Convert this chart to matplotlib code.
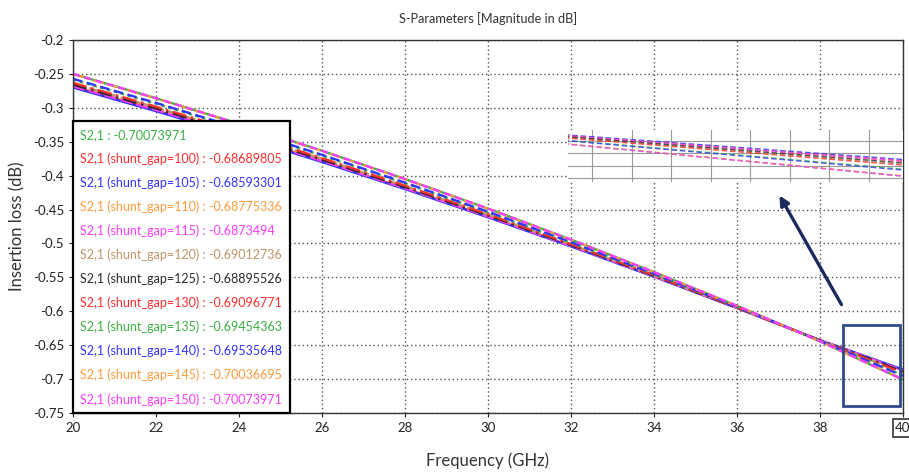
import matplotlib
matplotlib.use("Agg")
import matplotlib.pyplot as plt
import matplotlib.patches as mpatches
from matplotlib.ticker import MultipleLocator, FixedLocator

plt.rcParams["font.family"] = ["Lato", "DejaVu Sans"]
plt.rcParams["axes.unicode_minus"] = False

# Frequency sweep (GHz)
freq = [20, 22, 24, 26, 28, 30, 32, 34, 36, 38, 40]

# |S2,1| in dB for each run
s21_base = [-0.2500, -0.2859, -0.3236, -0.3633, -0.4050, -0.4486, -0.4944, -0.5422, -0.5919, -0.6442, -0.70073971]
s21_g100 = [-0.2686, -0.3036, -0.3403, -0.3787, -0.4188, -0.4605, -0.5037, -0.5485, -0.5950, -0.6427, -0.68689805]
s21_g105 = [-0.2700, -0.3049, -0.3416, -0.3799, -0.4198, -0.4614, -0.5044, -0.5490, -0.5953, -0.6426, -0.68593301]
s21_g110 = [-0.2674, -0.3024, -0.3392, -0.3777, -0.4179, -0.4597, -0.5031, -0.5481, -0.5948, -0.6428, -0.68775336]
s21_g115 = [-0.2681, -0.3031, -0.3399, -0.3783, -0.4184, -0.4601, -0.5034, -0.5483, -0.5949, -0.6428, -0.6873494]
s21_g120 = [-0.2643, -0.2995, -0.3365, -0.3752, -0.4156, -0.4577, -0.5015, -0.5471, -0.5943, -0.6431, -0.69012736]
s21_g125 = [-0.2658, -0.3009, -0.3378, -0.3764, -0.4167, -0.4587, -0.5023, -0.5476, -0.5946, -0.6429, -0.68895526]
s21_g130 = [-0.2631, -0.2983, -0.3354, -0.3742, -0.4147, -0.4570, -0.5009, -0.5467, -0.5941, -0.6432, -0.69096771]
s21_g135 = [-0.2584, -0.2939, -0.3312, -0.3703, -0.4112, -0.4540, -0.4986, -0.5451, -0.5933, -0.6435, -0.69454363]
s21_g140 = [-0.2572, -0.2927, -0.3301, -0.3693, -0.4103, -0.4532, -0.4980, -0.5447, -0.5931, -0.6436, -0.69535648]
s21_g145 = [-0.2504, -0.2863, -0.3240, -0.3637, -0.4053, -0.4489, -0.4946, -0.5423, -0.5920, -0.6442, -0.70036695]
s21_g150 = [-0.2500, -0.2859, -0.3236, -0.3633, -0.4050, -0.4486, -0.4944, -0.5422, -0.5919, -0.6442, -0.70073971]

series_names = ["S2,1", "S2,1 (shunt_gap=100)", "S2,1 (shunt_gap=105)", "S2,1 (shunt_gap=110)",
                "S2,1 (shunt_gap=115)", "S2,1 (shunt_gap=120)", "S2,1 (shunt_gap=125)",
                "S2,1 (shunt_gap=130)", "S2,1 (shunt_gap=135)", "S2,1 (shunt_gap=140)",
                "S2,1 (shunt_gap=145)", "S2,1 (shunt_gap=150)"]
marker_text = ["-0.70073971", "-0.68689805", "-0.68593301", "-0.68775336", "-0.6873494",
               "-0.69012736", "-0.68895526", "-0.69096771", "-0.69454363", "-0.69535648",
               "-0.70036695", "-0.70073971"]
series = [s21_base, s21_g100, s21_g105, s21_g110, s21_g115, s21_g120, s21_g125,
          s21_g130, s21_g135, s21_g140, s21_g145, s21_g150]

colors = ["#3cb043", "#ff2f2f", "#3434ff", "#ff9a3c", "#ff3cff", "#c09467",
          "#2b2b2b", "#ff2f2f", "#3cb043", "#3434ff", "#ff9a3c", "#ff3cff"]
styles = ["-", "-", "-", (0, (5, 2)), (0, (5, 2)), (0, (5, 2)), (0, (6, 2, 1, 2)),
          (0, (6, 2, 1, 2)), (0, (1.5, 1.5)), (0, (4, 2)), (0, (1.5, 1.5)), (0, (3, 2))]

fig = plt.figure(figsize=(9.09, 4.76), dpi=100)
ax = fig.add_axes([73 / 909, 63 / 476, 830 / 909, 373 / 476])

handles = []
for vals, c, ls, name, mt in zip(series, colors, styles, series_names, marker_text):
    h, = ax.plot(freq, vals, color=c, linestyle=ls, linewidth=1.7, label=f"{name} : {mt}")
    handles.append(h)

ax.set_xlim(20, 40)
ax.set_ylim(-0.75, -0.2)
ax.xaxis.set_major_locator(MultipleLocator(2))
ax.yaxis.set_major_locator(MultipleLocator(0.05))
ax.yaxis.set_major_formatter(matplotlib.ticker.FuncFormatter(lambda v, p: f"{v:.2f}".rstrip("0")))
ax.grid(True, color="#555555", linestyle=(0, (1, 2)), linewidth=1.0)
ax.tick_params(axis="both", labelsize=9.5, length=3, width=0.8, colors="#222222")
for sp in ax.spines.values():
    sp.set_linewidth(1.0)
    sp.set_color("#333333")

ax.set_title("S-Parameters [Magnitude in dB]", fontsize=9.2, color="#333333", pad=12)
ax.set_xlabel("Frequency (GHz)", fontsize=12, color="#333333", labelpad=13)
ax.set_ylabel("Insertion loss (dB)", fontsize=12, color="#333333", labelpad=5)

# highlight the marker position label on the x axis
fig.canvas.draw()
for lbl in ax.get_xticklabels():
    if lbl.get_text() == "40":
        lbl.set_bbox(dict(boxstyle="square,pad=0.2", facecolor="white", edgecolor="#333333", linewidth=1.2))

leg = ax.legend(handles=handles, loc="lower left", bbox_to_anchor=(0, 0), borderaxespad=0,
                handlelength=0, handletextpad=0, fontsize=9, labelspacing=0.92,
                fancybox=False, framealpha=1, edgecolor="black", labelcolor="linecolor",
                borderpad=0.6)
leg.get_frame().set_linewidth(1.6)
for lh in leg.legend_handles:
    lh.set_visible(False)

# zoomed view of the high-frequency end
axin = ax.inset_axes([495 / 830, 231 / 373, 335 / 830, 52 / 373])
for vals, c, ls in zip(series, colors, styles):
    axin.plot(freq, vals, color=c, linestyle=(0, (4, 2)), linewidth=1.0, alpha=0.8)
axin.set_xlim(39.0, 40.0)
axin.set_ylim(-0.7059, -0.6599)
axin.xaxis.set_major_locator(FixedLocator([39.072 + 0.118 * k for k in range(8)]))
axin.yaxis.set_major_locator(FixedLocator([-0.6696 - 0.0109 * k for k in range(4)]))
axin.grid(True, color="#999999", linewidth=0.8)
axin.tick_params(left=False, bottom=False, labelleft=False, labelbottom=False)
for sp in axin.spines.values():
    sp.set_visible(False)
axin.set_facecolor("white")
axin.set_zorder(5)

# selection box and pointer to the zoomed view
rect = mpatches.Rectangle((38.55, -0.7397), 1.38, 0.1195, fill=False,
                          edgecolor="#2f4b8a", linewidth=2, zorder=6, clip_on=False)
ax.add_patch(rect)
ax.annotate("", xy=(36.99, -0.4256), xytext=(38.55, -0.5937),
            arrowprops=dict(arrowstyle="-|>", color="#1c2a5e", lw=2.4, mutation_scale=14),
            zorder=7)

fig.savefig("out.png", dpi=100, facecolor="white")
